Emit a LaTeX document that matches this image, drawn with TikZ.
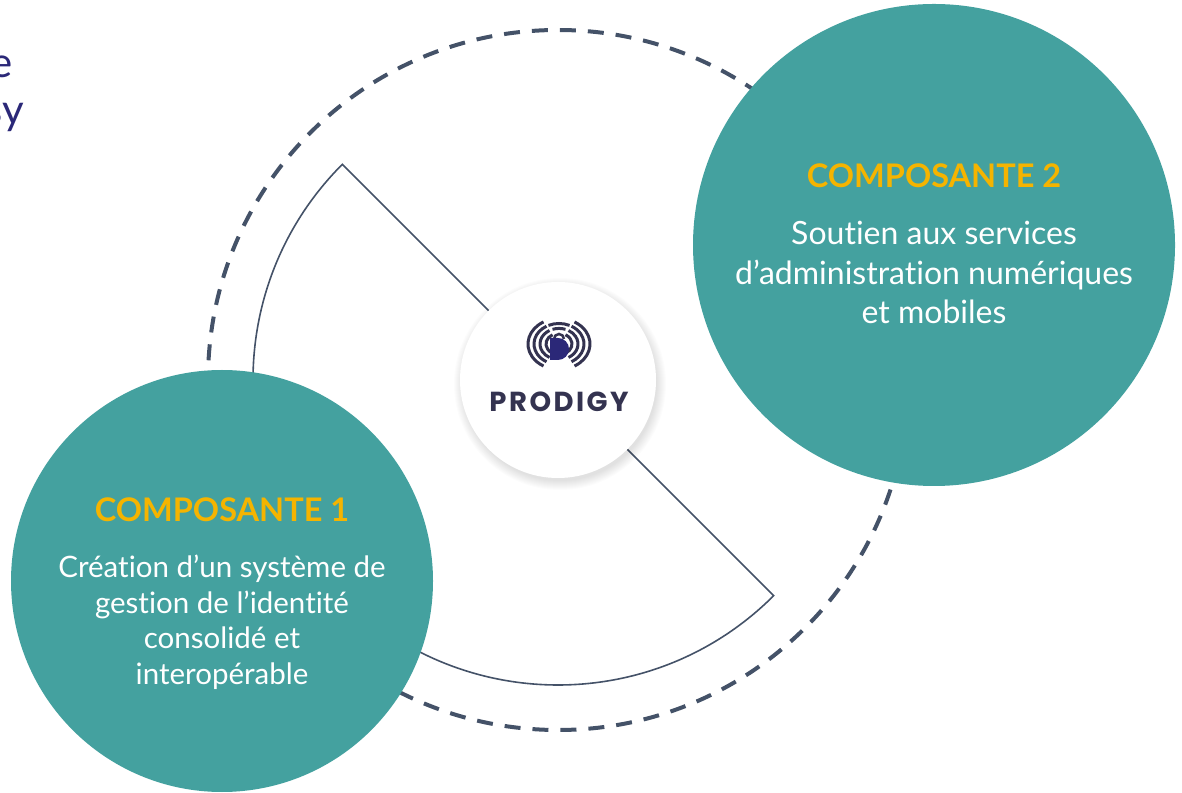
\documentclass[tikz,border=0pt]{standalone}
\usepackage{fontspec}
\setmainfont{Lato}[Ligatures=NoCommon]
\newfontfamily\logofont[LetterSpace=9]{Poppins}
\usetikzlibrary{positioning,calc}
\definecolor{teal1}{RGB}{68,161,159}
\definecolor{gold1}{RGB}{245,180,0}
\definecolor{slate1}{RGB}{68,82,104}
\definecolor{navy1}{RGB}{52,51,80}
\definecolor{indigo1}{RGB}{43,40,120}

\begin{document}
\begin{tikzpicture}[x=1pt,y=1pt,
      % define styles
      comp/.style={
           circle,
           fill=teal1,
           inner sep=0pt
      },
      title/.style={
           font=\fontsize{32.5}{38}\selectfont\bfseries,
           text=gold1,
           inner sep=0pt
      },
      body/.style={
           font=\fontsize{32}{39.5}\selectfont,
           text=white,
           align=center,
           inner sep=0pt
      },
      ring/.style={
           slate1,
           line width=4pt,
           dash pattern=on 16pt off 12pt
      },
      sector/.style={
           slate1,
           line width=1.6pt,
           line join=miter
      },
      print/.style={
           navy1,
           line width=3pt
      }
  ]
  \useasboundingbox (0,0) rectangle (1182,792);
  % centre of the picture
  \coordinate (c) at (558,412);
  % fragment of the text on the left
  \node[anchor=base east,inner sep=0pt,text=indigo1,font=\fontsize{42}{42}\selectfont] (fe) at (13,714) {e};
  \node[anchor=base east,inner sep=0pt,text=indigo1,font=\fontsize{42}{42}\selectfont] (fsy) at (24,667) {sy};
  % dashed ring and sector
  \draw[ring] (c) circle[radius=350];
  \draw[sector] (c) -- ($(c)+(135:305)$) arc[start angle=135,end angle=315,radius=305] -- cycle;
  % Composante 1
  \node[comp,minimum size=422pt] (k1) at (222,211) {};
  \node[title,anchor=base] (t1) at (222,270) {COMPOSANTE 1};
  \node[body,font=\fontsize{29.5}{35.5}\selectfont,anchor=north] (b1) at (222,237) {Création d’un système de\\gestion de l’identité\\consolidé et\\interopérable};
  % Composante 2
  \node[comp,minimum size=482pt] (k2) at (934,547) {};
  \node[title,anchor=base] (t2) at (934,604) {COMPOSANTE 2};
  \node[body,anchor=north] (b2) at (934,571) {Soutien aux services\\d’administration numériques\\et mobiles};
  % logo with its shadow
  \foreach \i in {1,...,10}
      \fill[black,opacity=0.012] ($(c)+(2,-4)$) circle[radius=96+\i];
  \node[circle,fill=white,minimum size=196pt,inner sep=0pt] (logo) at (c) {};
  \coordinate (fp) at (559,448);
  \foreach \r in {13,19,25,31}{
      \draw[print] ($(fp)+({\r*cos(120)},{0.82*\r*sin(120)})$) arc[start angle=120,end angle=240,x radius=\r,y radius=0.82*\r];
      \draw[print] ($(fp)+({\r*cos(-60)},{0.82*\r*sin(-60)})$) arc[start angle=-60,end angle=60,x radius=\r,y radius=0.82*\r];
  }
  \draw[print] ($(fp)+({19*cos(70)},{0.82*19*sin(70)})$) arc[start angle=70,end angle=110,x radius=19,y radius=0.82*19];
  \draw[print] ($(fp)+({25*cos(65)},{0.82*25*sin(65)})$) arc[start angle=65,end angle=115,x radius=25,y radius=0.82*25];
  \draw[navy1,line width=2.5pt] (554,453) arc[start angle=180,end angle=0,radius=5];
  \fill[indigo1] (550,432) -- (558,432) arc[start angle=-90,end angle=90,radius=11] -- (550,454) -- cycle;
  \node[anchor=base,inner sep=0pt,text=navy1,font=\logofont\bfseries\fontsize{27.5}{27.5}\selectfont] (name) at (559,380) {PRODIGY};
\end{tikzpicture}
\end{document}
